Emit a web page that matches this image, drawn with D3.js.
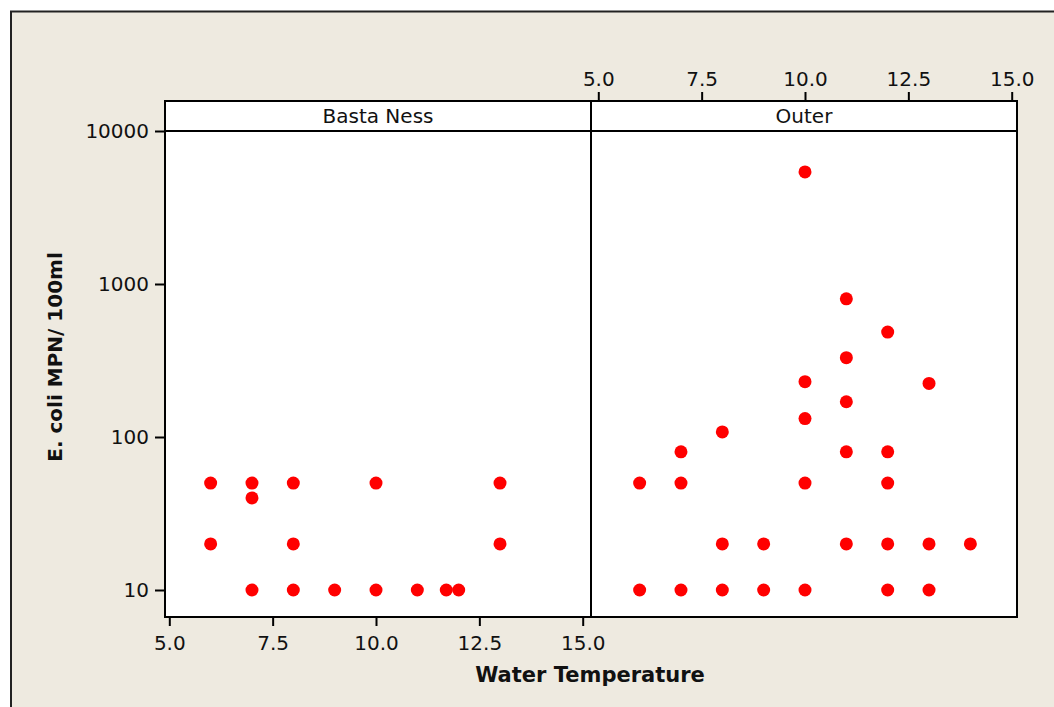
<!DOCTYPE html>
<html>
<head>
<meta charset="utf-8">
<script src="https://cdn.jsdelivr.net/npm/d3@7"></script>
<style>
  body { margin: 0; background: #fff; }
  svg text { font-family: "DejaVu Sans", Verdana, sans-serif; fill: #111; }
  .axis text { font-size: 20px; }
  .axis line { stroke: #000; stroke-width: 2; }
  .axis .domain { display: none; }
</style>
</head>
<body>
<svg id="chart" width="1054" height="707"></svg>
<script>
// panels (site groups)
var panels = ["Basta Ness", "Outer"];

// Basta Ness: water temperature vs E. coli
var bastaTemp  = [6, 6, 7, 7, 7, 8, 8, 8, 9, 10, 10, 11, 11.7, 12, 13, 13];
var bastaEcoli = [50, 20, 50, 40, 10, 50, 20, 10, 10, 50, 10, 10, 10, 10, 50, 20];

// Outer
var outerTemp  = [6, 6, 7, 7, 7, 8, 8, 8, 9, 9, 10, 10, 10, 10, 10, 11, 11, 11, 11, 11, 12, 12, 12, 12, 12, 13, 13, 13, 14];
var outerEcoli = [50, 10, 80, 50, 10, 108, 20, 10, 20, 10, 5400, 230, 132, 50, 10, 800, 330, 170, 80, 20, 485, 80, 50, 20, 10, 224, 20, 10, 20];

// tick labels
var xTicks = [5, 7.5, 10, 12.5, 15];
var yTicks = [10, 100, 1000, 10000];

var svg = d3.select("#chart");

// beige frame with dark top/left edge
svg.append("rect")
  .attr("x", 11).attr("y", 12).attr("width", 1043).attr("height", 695)
  .attr("fill", "#eeeae0");
svg.append("path")
  .attr("d", "M11,707V11.5H1054")
  .attr("fill", "none").attr("stroke", "#222").attr("stroke-width", 2);

var top_strip = 101, plot_top = 131, plot_bottom = 617;
var panel_x = [[165, 591], [591, 1017]];
var x_range = [[169.3, 582.7], [598.3, 1011.7]];

var y = d3.scaleLog()
  .domain([10, 10000])
  .range([590, 131]);

var data = [
  bastaTemp.map(function(t, i) { return {temp: t, ecoli: bastaEcoli[i]}; }),
  outerTemp.map(function(t, i) { return {temp: t, ecoli: outerEcoli[i]}; })
];

panels.forEach(function(name, p) {
  var x = d3.scaleLinear().domain([5, 15]).range(x_range[p]);
  var x0 = panel_x[p][0], x1 = panel_x[p][1];

  // strip header
  svg.append("rect")
    .attr("x", x0).attr("y", top_strip)
    .attr("width", x1 - x0).attr("height", plot_top - top_strip)
    .attr("fill", "#fff").attr("stroke", "#000").attr("stroke-width", 2);
  svg.append("text")
    .attr("x", (x0 + x1) / 2).attr("y", 123)
    .attr("text-anchor", "middle")
    .style("font-size", "20px")
    .text(name);

  // plot area
  svg.append("rect")
    .attr("x", x0).attr("y", plot_top)
    .attr("width", x1 - x0).attr("height", plot_bottom - plot_top)
    .attr("fill", "#fff").attr("stroke", "#000").attr("stroke-width", 2);

  // x axis: bottom for first panel, top for second
  if (p == 0) {
    svg.append("g")
      .attr("class", "axis")
      .attr("transform", "translate(0," + (plot_bottom + 1) + ")")
      .call(d3.axisBottom(x).tickValues(xTicks).tickFormat(d3.format(".1f")).tickSize(8).tickPadding(10));
  } else {
    svg.append("g")
      .attr("class", "axis")
      .attr("transform", "translate(0," + (top_strip - 1) + ")")
      .call(d3.axisTop(x).tickValues(xTicks).tickFormat(d3.format(".1f")).tickSize(8).tickPadding(6));
  }

  svg.selectAll(".pt" + p)
    .data(data[p])
    .enter().append("circle")
      .attr("class", "pt" + p)
      .attr("cx", function(d) { return x(d.temp); })
      .attr("cy", function(d) { return y(d.ecoli); })
      .attr("r", 6.5)
      .attr("fill", "#ff0000");
});

// y axis
svg.append("g")
  .attr("class", "axis")
  .attr("transform", "translate(" + (panel_x[0][0] - 1) + ",0)")
  .call(d3.axisLeft(y).tickValues(yTicks).tickFormat(d3.format("d")).tickSize(9).tickPadding(6));

// axis titles
svg.append("text")
  .attr("x", 590).attr("y", 682)
  .attr("text-anchor", "middle")
  .style("font-size", "21px").style("font-weight", "bold")
  .text("Water Temperature");

svg.append("text")
  .attr("transform", "translate(62,357) rotate(-90)")
  .attr("text-anchor", "middle")
  .style("font-size", "20px").style("font-weight", "bold")
  .text("E. coli MPN/ 100ml");
</script>
</body>
</html>
